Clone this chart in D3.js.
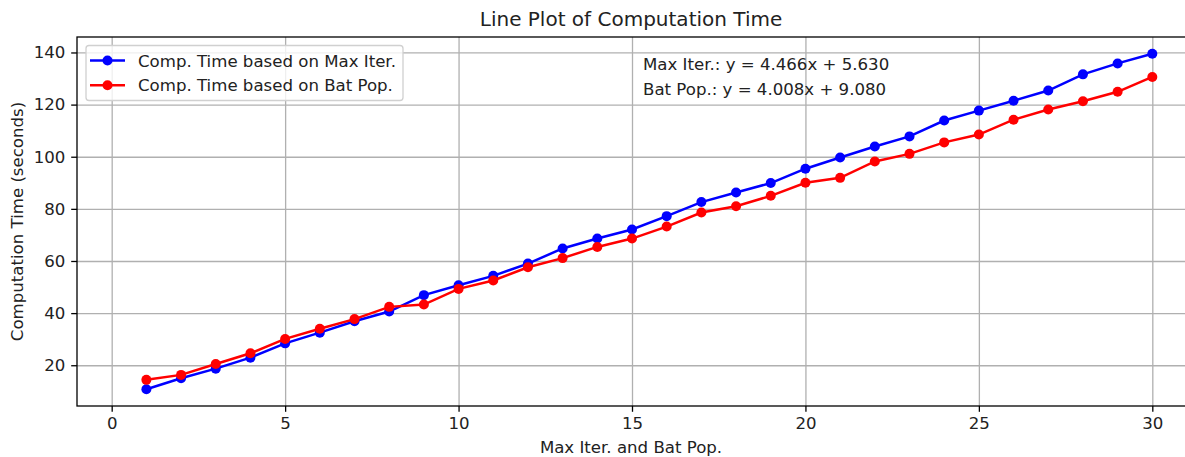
<!DOCTYPE html>
<html>
<head>
<meta charset="utf-8">
<script src="https://cdn.jsdelivr.net/npm/d3@7"></script>
<style>
  body { margin: 0; background: #fff; }
  svg { font-family: "DejaVu Sans", sans-serif; }
</style>
</head>
<body>
<div class="chart"></div>
<script>
/** data */
const xs = d3.range(1, 31);
const maxIterTime = [10.8, 15.0, 18.7, 22.9, 28.4, 32.5, 36.9, 40.6, 46.9, 50.7,
                     54.3, 59.0, 64.8, 68.6, 72.1, 77.2, 82.6, 86.3, 89.9, 95.4,
                     99.7, 103.9, 107.8, 113.9, 117.7, 121.5, 125.4, 131.6, 135.8, 139.5];
const batPopTime = [14.4, 16.3, 20.5, 24.6, 30.1, 34.0, 37.7, 42.4, 43.3, 49.3,
                    52.5, 57.6, 61.1, 65.4, 68.6, 73.2, 78.6, 81.0, 85.0, 90.0,
                    91.9, 98.2, 101.1, 105.5, 108.5, 114.2, 118.1, 121.3, 124.9, 130.6];
const xTicks = [0, 5, 10, 15, 20, 25, 30];
const yTicks = [20, 40, 60, 80, 100, 120, 140];
const seriesNames = ['Comp. Time based on Max Iter.', 'Comp. Time based on Bat Pop.'];
const fitTexts = ['Max Iter.: y = 4.466x + 5.630', 'Bat Pop.: y = 4.008x + 9.080'];

/** canvas */
let width = 1185, height = 457;
let svg = d3.select('.chart').append('svg')
    .attr('width', width)
    .attr('height', height);

let pLeft = 77, pRight = 1187, pTop = 37, pBottom = 406;
let fs = '16.6px', lw = 2.5, mr = 5;
let x = d3.scaleLinear().domain([-1, 31]).range([pLeft, pRight]);

/** y limits with 5% margin like matplotlib */
let all = maxIterTime.concat(batPopTime);
let lo = d3.min(all), hi = d3.max(all), pad = (hi - lo) * 0.05;
let y = d3.scaleLinear().domain([lo - pad, hi + pad]).range([pBottom, pTop]);

let plot = svg.append('g');

/** grid */
plot.append('g')
    .attr('transform', `translate(0,${pBottom})`)
    .call(d3.axisBottom(x).tickValues(xTicks).tickSize(-(pBottom - pTop)).tickFormat(''))
    .call(g => g.select('.domain').remove())
    .selectAll('line').attr('stroke', '#b0b0b0').attr('stroke-width', 1.3);
plot.append('g')
    .attr('transform', `translate(${pLeft},0)`)
    .call(d3.axisLeft(y).tickValues(yTicks).tickSize(-(pRight - pLeft)).tickFormat(''))
    .call(g => g.select('.domain').remove())
    .selectAll('line').attr('stroke', '#b0b0b0').attr('stroke-width', 1.3);

/** series */
let lineGen = d3.line().x((d, i) => x(xs[i])).y(d => y(d));
const series = [
  { values: maxIterTime, color: '#0000ff' },
  { values: batPopTime, color: '#ff0000' }
];
series.forEach(s => {
  plot.append('path')
      .datum(s.values)
      .attr('d', lineGen)
      .attr('fill', 'none')
      .attr('stroke', s.color)
      .attr('stroke-width', lw);
  plot.selectAll(null)
      .data(s.values)
      .enter()
      .append('circle')
      .attr('cx', (d, i) => x(xs[i]))
      .attr('cy', d => y(d))
      .attr('r', mr)
      .attr('fill', s.color);
});

/** spines */
plot.append('rect')
    .attr('x', pLeft).attr('y', pTop)
    .attr('width', pRight - pLeft).attr('height', pBottom - pTop)
    .attr('fill', 'none').attr('stroke', '#000').attr('stroke-width', 1.3);

/** axes */
let xAxis = svg.append('g')
    .attr('transform', `translate(0,${pBottom})`)
    .call(d3.axisBottom(x).tickValues(xTicks).tickSize(5.8).tickPadding(5.8));
let yAxis = svg.append('g')
    .attr('transform', `translate(${pLeft},0)`)
    .call(d3.axisLeft(y).tickValues(yTicks).tickSize(5.8).tickPadding(5.8));
[xAxis, yAxis].forEach(a => {
  a.select('.domain').remove();
  a.selectAll('line').attr('stroke', '#000').attr('stroke-width', 1.3);
  a.selectAll('text').attr('fill', '#222').style('font-size', fs)
      .style('font-family', '"DejaVu Sans", sans-serif');
});

/** titles */
svg.append('text')
    .attr('x', 631).attr('y', 26)
    .attr('text-anchor', 'middle')
    .style('font-size', '20px').attr('fill', '#222')
    .text('Line Plot of Computation Time');
svg.append('text')
    .attr('x', 631).attr('y', 452.5)
    .attr('text-anchor', 'middle')
    .style('font-size', fs).attr('fill', '#222')
    .text('Max Iter. and Bat Pop.');
svg.append('text')
    .attr('transform', `translate(23,${(pTop + pBottom) / 2}) rotate(-90)`)
    .attr('text-anchor', 'middle')
    .style('font-size', fs).attr('fill', '#222')
    .text('Computation Time (seconds)');

/** fit annotations */
svg.selectAll('.fit')
    .data(fitTexts)
    .enter()
    .append('text')
    .attr('class', 'fit')
    .attr('x', 643)
    .attr('y', (d, i) => 69.5 + i * 25.5)
    .style('font-size', fs).attr('fill', '#222')
    .text(d => d);

/** legend */
let legend = svg.append('g');
legend.append('rect')
    .attr('x', 86).attr('y', 45.5)
    .attr('width', 317).attr('height', 55)
    .attr('rx', 3)
    .attr('fill', 'rgba(255,255,255,0.8)')
    .attr('stroke', '#d0d0d0').attr('stroke-width', 1.3);
let items = legend.selectAll('.item')
    .data(series)
    .enter()
    .append('g')
    .attr('transform', (d, i) => `translate(0,${60.5 + i * 24.8})`);
items.append('line')
    .attr('x1', 90).attr('x2', 125)
    .attr('stroke', d => d.color).attr('stroke-width', lw);
items.append('circle')
    .attr('cx', 107.5).attr('r', mr)
    .attr('fill', d => d.color);
items.append('text')
    .attr('x', 138).attr('y', 6)
    .style('font-size', fs).attr('fill', '#222')
    .text((d, i) => seriesNames[i]);
</script>
</body>
</html>
